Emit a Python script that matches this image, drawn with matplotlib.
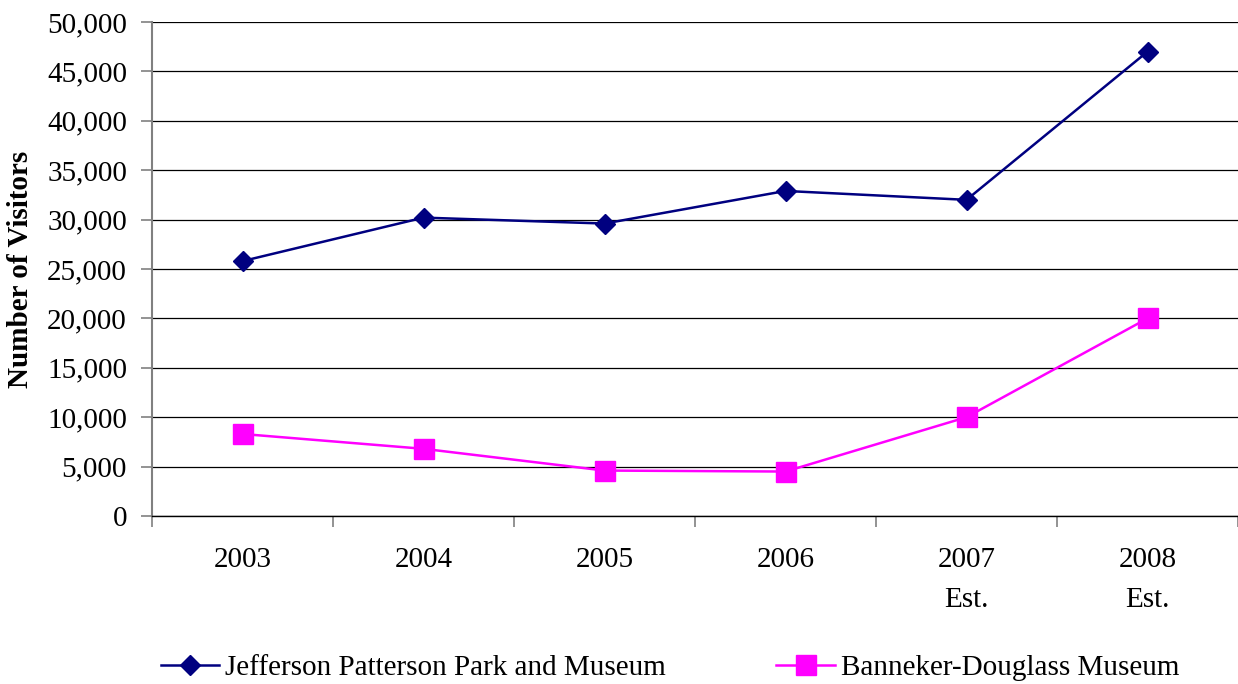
import matplotlib
matplotlib.use("Agg")
import matplotlib.pyplot as plt
from matplotlib.ticker import FuncFormatter, FixedLocator

years = ["2003", "2004", "2005", "2006", "2007\nEst.", "2008\nEst."]
jefferson = [25800, 30200, 29600, 32900, 32000, 47000]
banneker = [8300, 6800, 4600, 4500, 10000, 20000]
series_names = ["Jefferson Patterson Park and Museum", "Banneker-Douglass Museum"]

plt.rcParams['font.family'] = ['Liberation Serif', 'DejaVu Serif']
FS = 21

fig = plt.figure(figsize=(12.38, 6.84), dpi=100)
ax = fig.add_axes([152/1238, 1-516/684, 1-152/1238, (516-22)/684])

x = list(range(len(years)))
l1, = ax.plot(x, jefferson, color="#000080", lw=1.8, marker="D", ms=10.5,
              markeredgecolor="#000080", markerfacecolor="#000080", zorder=3)
l2, = ax.plot(x, banneker, color="#FF00FF", lw=1.8, marker="s", ms=14,
              markeredgecolor="#FF00FF", markerfacecolor="#FF00FF", zorder=3)

ax.set_xlim(-0.5, len(years) - 0.5)
ax.set_ylim(0, 50000)
ax.set_yticks(range(0, 50001, 5000))
ax.yaxis.set_major_formatter(FuncFormatter(lambda v, p: f"{int(v):,}"))
ax.grid(axis="y", color="#000000", lw=0.9)
ax.set_axisbelow(True)

ax.xaxis.set_major_locator(FixedLocator([i - 0.5 for i in range(len(years) + 1)]))
ax.xaxis.set_minor_locator(FixedLocator(x))
ax.set_xticklabels([])
ax.set_xticklabels(years, minor=True, linespacing=1.7)
ax.tick_params(axis="x", which="major", length=8, color="#808080", width=1.2, direction="out")
ax.tick_params(axis="x", which="minor", length=0, pad=22, labelsize=FS)
ax.tick_params(axis="y", length=8, color="#808080", width=1.2, labelsize=FS, pad=10)

for s in ["top", "right"]:
    ax.spines[s].set_visible(False)
ax.spines["left"].set_color("#808080")
ax.spines["left"].set_linewidth(1.5)
ax.spines["bottom"].set_color("#000000")
ax.spines["bottom"].set_linewidth(1.0)

ax.set_ylabel("Number of Visitors", fontsize=FS, fontweight="bold")
ax.yaxis.set_label_coords((34-152)/1086, 0.5)

fig.legend([l1, l2], series_names, loc="center", bbox_to_anchor=(0.541, 1-668/684),
           ncol=2, frameon=False, fontsize=FS, handlelength=2.0, columnspacing=3.8,
           handletextpad=0.2)

fig.savefig("out.png", dpi=100)
